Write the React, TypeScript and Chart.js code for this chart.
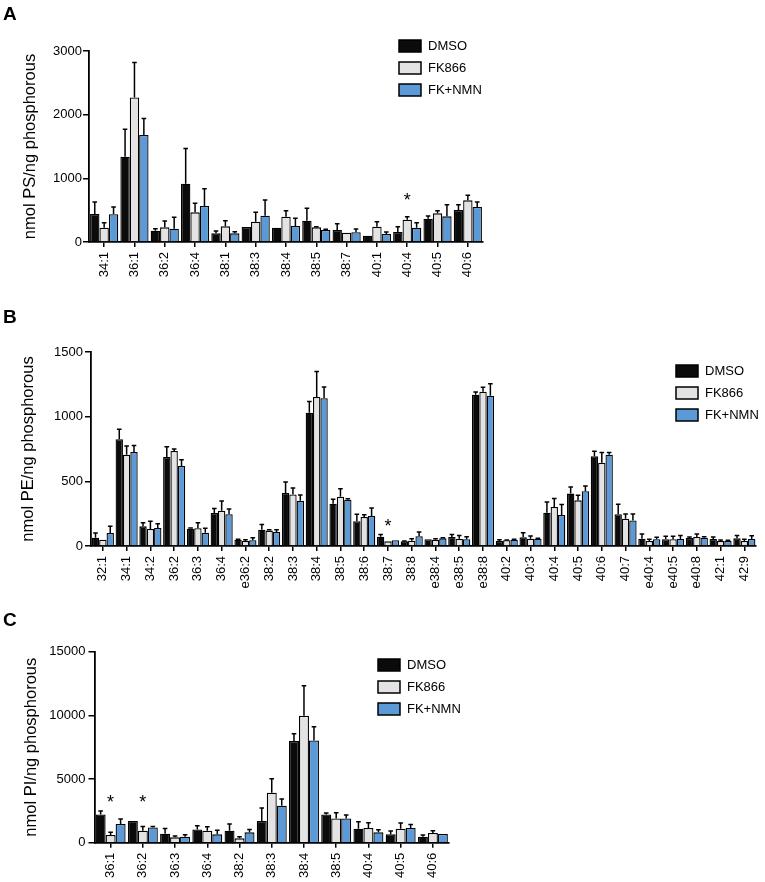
import React, { useEffect, useRef } from 'react';
import { Chart, registerables } from 'chart.js';

Chart.register(...registerables);

// ---------------- data ----------------
const seriesNames = ['DMSO', 'FK866', 'FK+NMN'];

// Panel A : PS
const psCategories = ['34:1', '36:1', '36:2', '36:4', '38:1', '38:3', '38:4', '38:5', '38:7', '40:1', '40:4', '40:5', '40:6'];
const psDMSO = [440, 1340, 178, 916, 136, 235, 225, 335, 188, 99, 157, 366, 502];
const psDMSOErr = [188, 430, 32, 554, 37, 0, 0, 194, 100, 0, 84, 42, 84];
const psFK866 = [225, 2270, 230, 466, 246, 319, 398, 230, 146, 241, 351, 450, 654];
const psFK866Err = [78, 550, 100, 141, 89, 147, 94, 10, 0, 78, 47, 42, 79];
const psNMN = [435, 1680, 210, 565, 136, 413, 251, 188, 152, 126, 225, 403, 550];
const psNMNErr = [115, 260, 178, 272, 26, 247, 121, 11, 52, 31, 78, 183, 78];
const psTicks = [0, 1000, 2000, 3000];
const psStars = [{ category: '40:4', level: 730 }];

// Panel B : PE
const peCategories = ['32:1', '34:1', '34:2', '36:2', '36:3', '36:4', 'e36:2', '38:2', '38:3', '38:4', '38:5', '38:6', '38:7', '38:8', 'e38:4', 'e38:5', 'e38:8', '40:2', '40:3', '40:4', '40:5', '40:6', '40:7', 'e40:4', 'e40:5', 'e40:8', '42:1', '42:9'];
const peDMSO = [64, 825, 152, 688, 134, 255, 49, 126, 410, 1031, 327, 191, 72, 36, 52, 70, 1170, 39, 67, 258, 405, 693, 245, 57, 52, 62, 54, 59];
const peDMSOErr = [36, 77, 28, 80, 5, 34, 3, 41, 85, 87, 34, 54, 16, 3, 0, 18, 20, 10, 36, 82, 51, 39, 77, 36, 23, 8, 16, 23];
const peFK866 = [49, 706, 131, 734, 137, 273, 39, 119, 399, 1152, 381, 224, 36, 41, 49, 57, 1193, 44, 57, 301, 353, 644, 211, 39, 52, 70, 39, 39];
const peFK866Err = [0, 67, 60, 16, 43, 75, 10, 7, 49, 198, 62, 18, 0, 16, 8, 25, 34, 3, 20, 67, 39, 78, 36, 13, 23, 23, 7, 13];
const peNMN = [100, 727, 139, 618, 103, 245, 44, 108, 350, 1142, 358, 232, 44, 75, 59, 52, 1162, 49, 57, 240, 423, 706, 198, 52, 54, 64, 39, 54];
const peNMNErr = [52, 51, 34, 49, 34, 41, 20, 18, 44, 87, 8, 62, 0, 33, 5, 20, 93, 3, 3, 80, 41, 16, 49, 15, 28, 8, 5, 26];
const peTicks = [0, 500, 1000, 1500];
const peStars = [{ category: '38:7', level: 186 }];

// Panel C : PI
const piCategories = ['36:1', '36:2', '36:3', '36:4', '38:2', '38:3', '38:4', '38:5', '40:4', '40:5', '40:6'];
const piDMSO = [2224, 1700, 706, 1046, 942, 1700, 7979, 2224, 1099, 654, 471];
const piDMSOErr = [261, 0, 419, 288, 523, 1020, 575, 104, 549, 261, 131];
const piFK866 = [602, 942, 419, 942, 340, 3924, 9967, 1910, 1151, 1099, 759];
const piFK866Err = [209, 340, 104, 314, 131, 1099, 2354, 444, 419, 444, 183];
const piNMN = [1465, 1203, 471, 654, 811, 2904, 8031, 1910, 811, 1151, 680];
const piNMNErr = [392, 79, 157, 314, 235, 523, 1073, 261, 209, 288, 0];
const piTicks = [0, 5000, 10000, 15000];
const piStars = [{ category: '36:1', level: 3510 }, { category: '36:2', level: 3510 }];

// ---------------- style ----------------
const FONT = '"Liberation Sans", Arial, Helvetica, sans-serif';
const FILLS = ['#0b0b0b', '#e3e3e3', '#5b9ad6'];
const W = 765;

type Star = { category: string; level: number };
type Panel = {
  letter: string;
  letterBaseline: number;
  top: number;
  height: number;
  area: { left: number; right: number; top: number; bottom: number };
  categories: string[];
  values: number[][];
  errors: number[][];
  ticks: number[];
  yTitle: string;
  titlePad: number;
  yTickPad: number;
  stars: Star[];
  legend: { x: number; y: number };
};

const panels: Panel[] = [
  {
    letter: 'A', letterBaseline: 20, top: 0, height: 290,
    area: { left: 89, right: 483, top: 51, bottom: 242 },
    categories: psCategories,
    values: [psDMSO, psFK866, psNMN],
    errors: [psDMSOErr, psFK866Err, psNMNErr],
    ticks: psTicks, yTitle: 'nmol PS/ng phosphorous', titlePad: 21, yTickPad: 1,
    stars: psStars, legend: { x: 399, y: 46 },
  },
  {
    letter: 'B', letterBaseline: 33, top: 290, height: 300,
    area: { left: 91, right: 762, top: 62, bottom: 256 },
    categories: peCategories,
    values: [peDMSO, peFK866, peNMN],
    errors: [peDMSOErr, peFK866Err, peNMNErr],
    ticks: peTicks, yTitle: 'nmol PE/ng phosphorous', titlePad: 19, yTickPad: 2,
    stars: peStars, legend: { x: 676, y: 81 },
  },
  {
    letter: 'C', letterBaseline: 36, top: 590, height: 292,
    area: { left: 94.5, right: 449, top: 61.7, bottom: 252.7 },
    categories: piCategories,
    values: [piDMSO, piFK866, piNMN],
    errors: [piDMSOErr, piFK866Err, piNMNErr],
    ticks: piTicks, yTitle: 'nmol PI/ng phosphorous', titlePad: 22, yTickPad: 3,
    stars: piStars, legend: { x: 378, y: 75 },
  },
];

function buildChart(canvas: HTMLCanvasElement, p: Panel): Chart {
  const overlay = {
    id: 'overlay' + p.letter,
    afterDatasetsDraw(chart: any) {
      const ctx = chart.ctx;
      const yScale = chart.scales.y;
      ctx.save();
      ctx.strokeStyle = '#000';
      ctx.lineWidth = 1.5;
      p.values.forEach((vals, d) => {
        const meta = chart.getDatasetMeta(d);
        meta.data.forEach((bar: any, i: number) => {
          const e = p.errors[d][i];
          if (!e) return;
          const x = bar.x;
          const y0 = yScale.getPixelForValue(vals[i]);
          const y1 = yScale.getPixelForValue(vals[i] + e);
          ctx.beginPath();
          ctx.moveTo(x, y0);
          ctx.lineTo(x, y1);
          ctx.moveTo(x - 2.3, y1);
          ctx.lineTo(x + 2.3, y1);
          ctx.stroke();
        });
      });
      ctx.restore();
    },
    afterDraw(chart: any) {
      const ctx = chart.ctx;
      const xScale = chart.scales.x;
      const yScale = chart.scales.y;
      ctx.save();
      // significance stars
      const starSize = 18;
      ctx.fillStyle = '#000';
      ctx.font = `${starSize}px ${FONT}`;
      ctx.textAlign = 'center';
      ctx.textBaseline = 'alphabetic';
      p.stars.forEach((s) => {
        const idx = p.categories.indexOf(s.category);
        const x = xScale.getPixelForValue(idx);
        const y = yScale.getPixelForValue(s.level);
        ctx.fillText('*', x, y + starSize * 0.57);
      });
      // legend
      ctx.font = `13px ${FONT}`;
      ctx.textAlign = 'left';
      ctx.textBaseline = 'middle';
      seriesNames.forEach((name, i) => {
        const cy = p.legend.y + i * 22;
        ctx.fillStyle = FILLS[i];
        ctx.fillRect(p.legend.x, cy - 6, 22, 12);
        ctx.strokeStyle = '#000';
        ctx.lineWidth = 1.5;
        ctx.strokeRect(p.legend.x, cy - 6, 22, 12);
        ctx.fillStyle = '#000';
        ctx.fillText(name, p.legend.x + 29, cy + 0.5);
      });
      // panel letter
      ctx.font = `bold 19px ${FONT}`;
      ctx.textBaseline = 'alphabetic';
      ctx.fillText(p.letter, 3, p.letterBaseline);
      ctx.restore();
    },
  };

  return new Chart(canvas, {
    type: 'bar',
    data: {
      labels: p.categories,
      datasets: p.values.map((v, i) => ({
        label: seriesNames[i],
        data: v,
        backgroundColor: FILLS[i],
        borderColor: '#000',
        borderWidth: 1.3,
        categoryPercentage: 0.93,
        barPercentage: 1.0,
      })),
    },
    options: {
      animation: false,
      responsive: false,
      maintainAspectRatio: false,
      layout: { padding: { left: 0, top: p.area.top, right: W - p.area.right, bottom: 0 } },
      plugins: {
        legend: { display: false },
        tooltip: { enabled: false },
        title: { display: false },
      },
      scales: {
        x: {
          type: 'category',
          offset: true,
          grid: { display: true, drawOnChartArea: false, drawTicks: true, tickLength: 5, offset: false, color: '#000', lineWidth: 1.5 },
          border: { display: true, color: '#000', width: 1.8 },
          ticks: {
            autoSkip: false, maxRotation: 90, minRotation: 90, padding: 5,
            color: '#000', font: { family: FONT, size: 13 },
          },
          afterFit: (s: any) => { s.height = p.height - p.area.bottom; },
        },
        y: {
          min: p.ticks[0],
          max: p.ticks[p.ticks.length - 1],
          afterBuildTicks: (s: any) => { s.ticks = p.ticks.map((v) => ({ value: v })); },
          ticks: {
            padding: p.yTickPad, color: '#000', font: { family: FONT, size: 13 },
            callback: (v: any) => String(v),
          },
          grid: { display: true, drawOnChartArea: false, drawTicks: true, tickLength: 6, color: '#000', lineWidth: 1.5 },
          border: { display: true, color: '#000', width: 1.8 },
          title: {
            display: true, text: p.yTitle, color: '#000',
            font: { family: FONT, size: 16.5 },
            padding: { top: p.titlePad, bottom: 0 },
          },
          afterFit: (s: any) => { s.width = p.area.left; },
        },
      },
    } as any,
    plugins: [overlay as any],
  });
}

function PanelChart({ panel }: { panel: Panel }) {
  const ref = useRef<HTMLCanvasElement | null>(null);
  useEffect(() => {
    if (!ref.current) return;
    const chart = buildChart(ref.current, panel);
    return () => chart.destroy();
  }, [panel]);
  return (
    <canvas
      ref={ref}
      width={W}
      height={panel.height}
      style={{ position: 'absolute', left: 0, top: panel.top, width: W, height: panel.height, display: 'block' }}
    />
  );
}

export default function App() {
  return (
    <div style={{ position: 'absolute', left: 0, top: 0, width: W, height: 882, background: '#fff', overflow: 'hidden' }}>
      {panels.map((p) => (
        <PanelChart key={p.letter} panel={p} />
      ))}
    </div>
  );
}
